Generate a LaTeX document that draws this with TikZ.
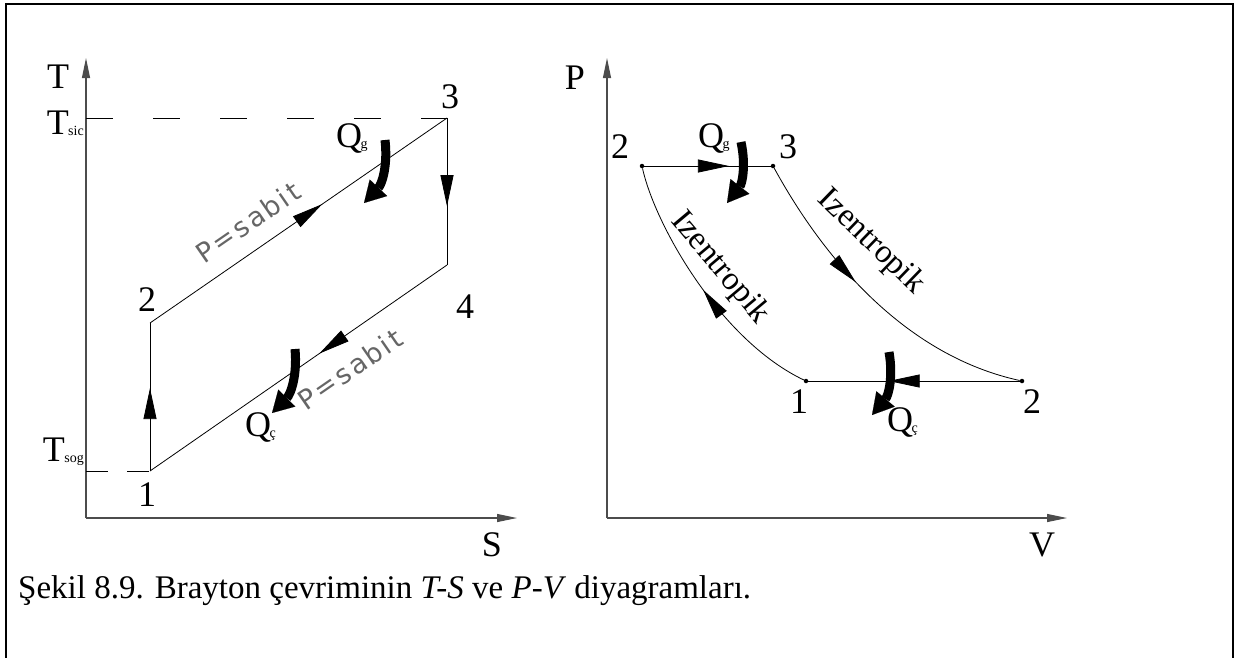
\documentclass[tikz,border=0pt]{standalone}
\usepackage{fontspec}
\setmainfont{Liberation Serif}
\newfontfamily\isofont[LetterSpace=9]{DejaVu Sans}
\usetikzlibrary{arrows.meta,decorations.markings,positioning}

% small subscripts as in the drawing
\newcommand{\qlab}[1]{Q\kern-1.5pt\raisebox{-1pt}{\fontsize{14}{14}\selectfont #1}}
\newcommand{\tlab}[1]{T\kern-0.5pt\raisebox{-1pt}{\fontsize{14}{14}\selectfont #1}}

\tikzset{
  flow/.tip={Triangle[length=31pt,width=13pt]},
  axistip/.tip={Triangle[length=20pt,width=8pt]},
  midarrow/.style={postaction={decorate},
    decoration={markings,mark=at position #1 with {\arrow{flow}}}},
  axis/.style={line width=1.1pt,black!70,-axistip},
  cycleline/.style={line width=0.8pt},
  lbl/.style={font=\fontsize{36}{36}\selectfont,inner sep=0pt},
  heat/.style={line width=9pt,-{Triangle[length=21pt,width=24pt,line width=0.1pt]}},
  dot/.style={circle,fill,inner sep=0pt,minimum size=4.5pt},
  sabit/.style={font=\isofont\fontsize{27}{27}\selectfont,black!60,inner sep=0pt},
  izen/.style={font=\fontsize{33}{33}\selectfont,inner sep=0pt},
}

\begin{document}
\begin{tikzpicture}[x=1pt,y=-1pt]
\useasboundingbox (0,0) rectangle (1236,657);

% frame
\draw[line width=2.2pt] (6,670) -- (6,4) -- (1233,4) -- (1233,670);

% --- T-S diagram ---
\coordinate (ts0) at (86,518);
\coordinate (ttop) at (86,58);
\coordinate (sright) at (517,518);
\draw[axis] (ts0) -- (ttop);
\draw[axis] (ts0) -- (sright);
\node[lbl] (tname) at (58,77) {T};
\node[lbl] (sname) at (492,545) {S};

\coordinate (s1) at (150,471);
\coordinate (s2) at (150,323);
\coordinate (s3) at (447,118);
\coordinate (s4) at (447,265);
\coordinate (tsic) at (86,118);
\coordinate (tsog) at (86,471);

\draw[dash pattern=on 27pt off 40pt] (tsic) -- (s3);
\draw[dash pattern=on 22pt off 19pt] (tsog) -- (s1);
\node[lbl,anchor=base east] (tsicl) at (84,134) {\tlab{sic}};
\node[lbl,anchor=base east] (tsogl) at (84,461) {\tlab{sog}};

\draw[cycleline,midarrow=0.56] (s1) -- (s2);
\draw[cycleline,midarrow=0.58] (s2) -- (s3);
\draw[cycleline,midarrow=0.6] (s3) -- (s4);
\draw[cycleline,midarrow=0.43] (s4) -- (s1);

\node[lbl] (n1) at (147,495) {1};
\node[lbl] (n2) at (147,300) {2};
\node[lbl] (n3) at (450,97) {3};
\node[lbl] (n4) at (465,307) {4};

\node[sabit,rotate=34.6] (pup) at (248,222) {P=sabit};
\node[sabit,rotate=34.6] (pdown) at (350,369) {P=sabit};

% heat in / out
\coordinate (qga) at (385,140);
\coordinate (qgb) at (364,203);
\coordinate (qca) at (295,349);
\coordinate (qcb) at (272,413);
\draw[heat] (qga) to[bend left=25] (qgb);
\draw[heat] (qca) to[bend left=25] (qcb);
\node[lbl,anchor=base west] (qgl) at (336,147) {\qlab{g}};
\node[lbl,anchor=base west] (qcl) at (245,436) {\qlab{ç}};

% --- P-V diagram ---
\coordinate (pv0) at (607,518);
\coordinate (ptop) at (607,58);
\coordinate (vright) at (1067,518);
\draw[axis] (pv0) -- (ptop);
\draw[axis] (pv0) -- (vright);
\node[lbl] (pname) at (575,78) {P};
\node[lbl] (vname) at (1042,545) {V};

\node[dot] (v2) at (642,166) {};
\node[dot] (v3) at (773,166) {};
\node[dot] (v1) at (806,381) {};
\node[dot] (v4) at (1022,381) {};

\draw[cycleline,midarrow=0.67] (v2) -- (v3);
\draw[cycleline,midarrow=0.42] (v3) .. controls (800,215) and (880,350) .. (v4);
\draw[cycleline,midarrow=0.62] (v4) -- (v1);
\draw[cycleline,midarrow=0.5] (v1) .. controls (720,340) and (655,225) .. (v2);

\node[lbl] (m2) at (620,147) {2};
\node[lbl] (m3) at (788,147) {3};
\node[lbl] (m1) at (799,402) {1};
\node[lbl] (m4) at (1032,402) {2};

\node[izen,rotate=-50] (izl) at (720,268) {Izentropik};
\node[izen,rotate=-44] (izr) at (871,242) {Izentropik};

\coordinate (pga) at (741,142);
\coordinate (pgb) at (727,203);
\coordinate (pca) at (889,352);
\coordinate (pcb) at (872,415);
\draw[heat] (pga) to[bend left=25] (pgb);
\draw[heat] (pca) to[bend left=25] (pcb);
\node[lbl,anchor=base west] (pgl) at (698,147) {\qlab{g}};
\node[lbl,anchor=base west] (pcl) at (887,431) {\qlab{ç}};

% caption
\node[anchor=base west,inner sep=0pt,font=\fontsize{33}{33}\selectfont] (cap) at (18,598)
  {Şekil 8.9. Brayton çevriminin \textit{T-S} ve \textit{P-V} diyagramları.};
\end{tikzpicture}
\end{document}
